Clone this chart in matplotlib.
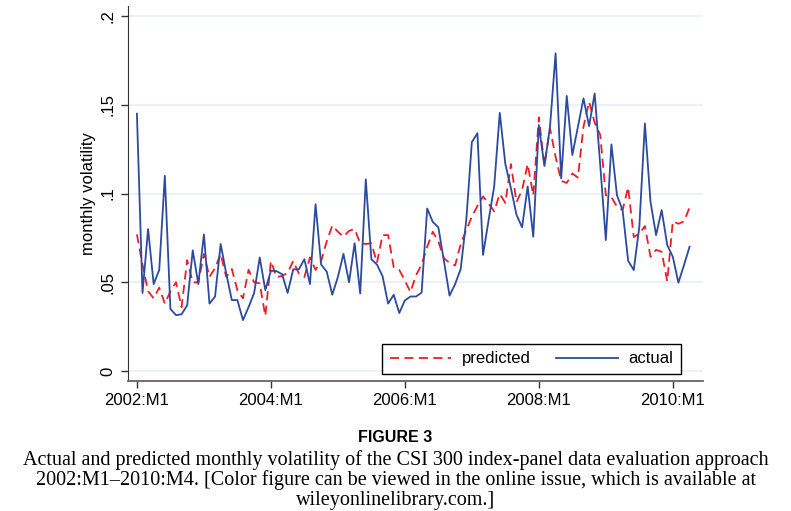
"""
Actual vs predicted monthly volatility of the CSI 300 index
"""

import numpy as np
import matplotlib.pyplot as plt

# ---------------------------------------------------------------------------- #
# Data, monthly from 2002:M1 to 2010:M4
# ---------------------------------------------------------------------------- #

actual = [0.145, 0.044, 0.080, 0.049, 0.057, 0.110, 0.035, 0.0315, 0.032, 0.037,
          0.068, 0.049, 0.077, 0.038, 0.042, 0.0716, 0.055, 0.040, 0.040, 0.0287,
          0.036, 0.044, 0.064, 0.0456, 0.0565, 0.0563, 0.0546, 0.044, 0.0573, 0.0573,
          0.063, 0.049, 0.094, 0.060, 0.056, 0.043, 0.053, 0.066, 0.050, 0.072,
          0.0437, 0.108, 0.063, 0.060, 0.0535, 0.038, 0.043, 0.0327, 0.0398, 0.042,
          0.042, 0.0442, 0.0916, 0.084, 0.081, 0.062, 0.0425, 0.049, 0.0575, 0.085,
          0.129, 0.134, 0.0654, 0.085, 0.104, 0.1455, 0.1166, 0.103, 0.088, 0.081,
          0.104, 0.0757, 0.1386, 0.1155, 0.1377, 0.179, 0.1085, 0.155, 0.1217, 0.1377,
          0.1536, 0.138, 0.1564, 0.116, 0.0738, 0.1277, 0.099, 0.0907, 0.0621, 0.0569,
          0.0813, 0.1395, 0.0954, 0.0766, 0.0907, 0.071, 0.0644, 0.0498, 0.0597, 0.070]

predicted = [0.077, 0.060, 0.045, 0.041, 0.047, 0.038, 0.045, 0.050, 0.036, 0.0625,
             0.050, 0.050, 0.066, 0.053, 0.058, 0.066, 0.053, 0.0575, 0.0455, 0.041,
             0.057, 0.050, 0.0494, 0.031, 0.062, 0.053, 0.0535, 0.0554, 0.062, 0.055,
             0.053, 0.064, 0.057, 0.062, 0.073, 0.082, 0.0785, 0.0757, 0.079, 0.080,
             0.072, 0.0716, 0.072, 0.061, 0.0766, 0.0766, 0.0585, 0.057, 0.051, 0.0445,
             0.054, 0.060, 0.070, 0.0785, 0.073, 0.0635, 0.061, 0.0595, 0.0715, 0.0794,
             0.087, 0.093, 0.0984, 0.0944, 0.090, 0.0998, 0.0947, 0.1166, 0.0952, 0.102,
             0.1166, 0.099, 0.1429, 0.116, 0.1367, 0.1207, 0.1072, 0.106, 0.1113, 0.109,
             0.1377, 0.1517, 0.140, 0.133, 0.099, 0.098, 0.0926, 0.0907, 0.1036, 0.0755,
             0.0774, 0.0817, 0.0644, 0.0683, 0.0672, 0.0506, 0.0844, 0.083, 0.0843, 0.0922]

months = np.arange(len(actual))
xtick_pos = [0, 24, 48, 72, 96]
xtick_labels = ['2002:M1', '2004:M1', '2006:M1', '2008:M1', '2010:M1']
ytick_pos = [0, 0.05, 0.1, 0.15, 0.2]
ytick_labels = ['0', '.05', '.1', '.15', '.2']

caption_title = 'FIGURE 3'
caption_lines = ['Actual and predicted monthly volatility of the CSI 300 index-panel data evaluation approach',
                 '2002:M1\u20132010:M4. [Color figure can be viewed in the online issue, which is available at',
                 'wileyonlinelibrary.com.]']

# ---------------------------------------------------------------------------- #
# Plot
# ---------------------------------------------------------------------------- #

plt.rcParams['font.family'] = ['Liberation Sans', 'DejaVu Sans']

fig = plt.figure(figsize=(7.91, 5.11), dpi=100)
ax = fig.add_axes([0.1618, 0.2544, 0.7269, 0.7336])

ax.plot(months, predicted, color='#ee1c25', lw=1.3, ls=(0, (5, 3)), label='predicted')
ax.plot(months, actual, color='#2c4a9e', lw=1.3, label='actual')

ax.set_xlim(-1.6, 101.4)
ax.set_ylim(-0.0056, 0.2056)

ax.set_xticks(xtick_pos)
ax.set_xticklabels(xtick_labels, fontsize=12)
ax.set_yticks(ytick_pos)
ax.set_yticklabels(ytick_labels, fontsize=12, rotation=90, va='center')
ax.tick_params(axis='both', length=5, width=1, color='#333333')
ax.tick_params(axis='y', pad=4)

ax.grid(axis='y', color='#e8f0f3', lw=1.2)
ax.set_axisbelow(True)
for side in ['top', 'right']:
    ax.spines[side].set_visible(False)
ax.spines['left'].set_color('#333333')
ax.spines['bottom'].set_color('#666666')
ax.spines['bottom'].set_linewidth(1.3)

ax.set_ylabel('monthly volatility', fontsize=12, labelpad=3)

leg = ax.legend(loc='lower right', bbox_to_anchor=(0.9617, 0.0187), borderaxespad=0,
                ncol=2, fontsize=12, fancybox=False, edgecolor='black', framealpha=1,
                handlelength=3.7, handletextpad=0.65, columnspacing=1.5, borderpad=0.45)
leg.get_frame().set_linewidth(1.0)

# Caption
fig.text(0.5, 1 - 437 / 511, caption_title, ha='center', va='center',
         fontsize=11.5, fontweight='bold')
for k, line in enumerate(caption_lines):
    fig.text(0.5, 1 - (460 + 20 * k) / 511, line, ha='center', va='center',
             fontsize=14.5, family=['Liberation Serif', 'DejaVu Serif'])

fig.savefig('out.png', dpi=100)
plt.close()
